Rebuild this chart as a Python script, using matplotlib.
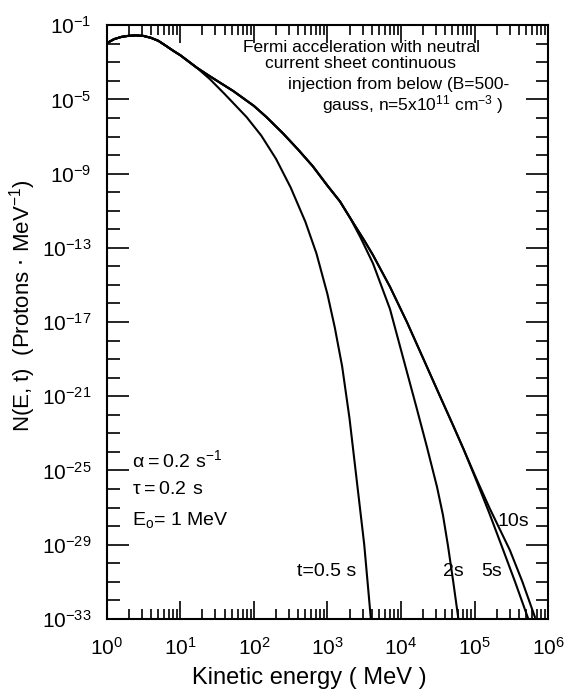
import numpy as np
import matplotlib
matplotlib.use('Agg')
import matplotlib.pyplot as plt
from matplotlib.ticker import FixedLocator, LogLocator, FuncFormatter, NullFormatter

plt.rcParams['font.family'] = ['Liberation Sans', 'DejaVu Sans']

# log10 of energy (MeV) and log10 of N
# part shared by all curves
common_loge = [0.0, 0.1, 0.2, 0.3, 0.4, 0.5, 0.6, 0.7, 0.8, 0.9, 1.0, 1.1, 1.22]
common_logn = [-1.97, -1.75, -1.63, -1.57, -1.55, -1.58, -1.68, -1.84, -2.10, -2.37, -2.62, -2.92, -3.28]

# t = 0.5 s branch
t05_loge = [1.4, 1.6, 1.72, 1.9, 2.1, 2.3, 2.5, 2.7, 2.85, 3.0, 3.1, 3.2, 3.3, 3.4, 3.5, 3.59]
t05_logn = [-3.9, -4.7, -5.2, -5.95, -6.95, -8.2, -9.75, -11.6, -13.3, -15.5, -17.3, -19.4, -22.2, -25.6, -29.0, -33.0]

# branch shared by 2 s, 5 s and 10 s
late_loge = [1.4, 1.6, 1.72, 2.0, 2.17, 2.4, 2.6, 2.8, 3.0, 3.17, 3.31]
late_logn = [-3.75, -4.25, -4.55, -5.35, -5.95, -6.85, -7.7, -8.6, -9.65, -10.5, -11.4]

# t = 2 s branch
t2_loge = [3.45, 3.62, 3.85, 4.03, 4.21, 4.35, 4.49, 4.57, 4.64, 4.71, 4.78]
t2_logn = [-12.45, -13.85, -16.3, -18.95, -21.6, -23.7, -25.9, -27.4, -29.1, -31.0, -33.0]

# branch shared by 5 s and 10 s
t510_loge = [3.5, 3.62, 3.85, 4.08, 4.30, 4.53, 4.7, 4.85]
t510_logn = [-12.6, -13.4, -15.1, -17.0, -18.95, -21.0, -22.5, -23.85]

t5_loge = [5.03, 5.2, 5.39, 5.55, 5.73]
t5_logn = [-25.6, -27.3, -29.3, -31.0, -33.0]

t10_loge = [5.03, 5.2, 5.48, 5.65, 5.82]
t10_logn = [-25.5, -27.0, -29.3, -31.0, -32.9]

curves = {
    't05': (common_loge + t05_loge, common_logn + t05_logn),
    't2': (common_loge + late_loge + t2_loge, common_logn + late_logn + t2_logn),
    't5': (common_loge + late_loge + t510_loge + t5_loge, common_logn + late_logn + t510_logn + t5_logn),
    't10': (common_loge + late_loge + t510_loge + t10_loge, common_logn + late_logn + t510_logn + t10_logn),
}

fig = plt.figure(figsize=(5.68, 7.0), dpi=100)
ax = fig.add_axes([0.188, 0.116, 0.777, 0.848])

for key, (le, ln) in curves.items():
    ax.plot(10 ** np.array(le), 10 ** np.array(ln), color='black', lw=1.5,
            solid_joinstyle='round')

ax.set_xscale('log')
ax.set_yscale('log')
ax.set_xlim(1, 1e6)
ax.set_ylim(1e-33, 1e-1)

def sup(v, pos):
    return r'$\mathregular{10^{%d}}$' % int(round(np.log10(v)))

ax.xaxis.set_major_locator(FixedLocator([10.0 ** k for k in range(0, 7)]))
ax.xaxis.set_minor_locator(LogLocator(base=10, subs=np.arange(2, 10), numticks=50))
ax.xaxis.set_major_formatter(FuncFormatter(sup))
ax.xaxis.set_minor_formatter(NullFormatter())

ax.yaxis.set_major_locator(FixedLocator([10.0 ** k for k in range(-1, -34, -4)]))
ax.yaxis.set_minor_locator(FixedLocator([10.0 ** k for k in range(-1, -34, -1)]))
ax.yaxis.set_major_formatter(FuncFormatter(sup))
ax.yaxis.set_minor_formatter(NullFormatter())

ax.tick_params(which='both', direction='in', top=True, right=True, width=1.2, labelsize=15)
ax.tick_params(axis='x', which='major', length=13, pad=13)
ax.tick_params(axis='x', which='minor', length=7)
ax.tick_params(axis='y', which='major', length=16, pad=11)
ax.tick_params(axis='y', which='minor', length=9)
for s in ax.spines.values():
    s.set_linewidth(1.5)

ax.set_xlabel('Kinetic energy ( MeV )', fontsize=17)
ax.xaxis.set_label_coords(0.46, -0.10)
ax.xaxis.label.set_va('center')
ax.set_ylabel(r'N(E, t)  (Protons $\cdot$ MeV$\mathregular{^{-1}}$)', fontsize=16)
ax.yaxis.set_label_coords(-0.19, 0.527)
ax.yaxis.label.set_va('center')

txt_kw = dict(transform=fig.transFigure, fontsize=12.5, va='center', ha='left')
fig.text(243 / 568, 1 - 47 / 700, 'Fermi acceleration with neutral', **txt_kw)
fig.text(265 / 568, 1 - 64 / 700, 'current sheet continuous', **txt_kw)
fig.text(288 / 568, 1 - 85 / 700, 'injection from below (B=500-', **txt_kw)
fig.text(322 / 568, 1 - 105 / 700, r'gauss, n=5x10$\mathregular{^{11}}$ cm$\mathregular{^{-3}}$ )', **txt_kw)

par_kw = dict(transform=fig.transFigure, fontsize=14, va='center', ha='left')
fig.text(132 / 568, 1 - 460 / 700, r'$\mathregular{\alpha = 0.2\ s^{-1}}$', **par_kw)
fig.text(132 / 568, 1 - 490 / 700, r'$\mathregular{\tau = 0.2\ s}$', **par_kw)
fig.text(132 / 568, 1 - 520 / 700, r'E$\mathregular{_o}$= 1 MeV', **par_kw)

lab_kw = dict(transform=fig.transFigure, fontsize=14, va='center', ha='center')
fig.text(327 / 568, 1 - 572 / 700, 't=0.5 s', **lab_kw)
fig.text(453 / 568, 1 - 572 / 700, '2s', **lab_kw)
fig.text(492 / 568, 1 - 572 / 700, '5s', **lab_kw)
fig.text(513 / 568, 1 - 522 / 700, '10s', **lab_kw)

fig.savefig('out.png', dpi=100)
